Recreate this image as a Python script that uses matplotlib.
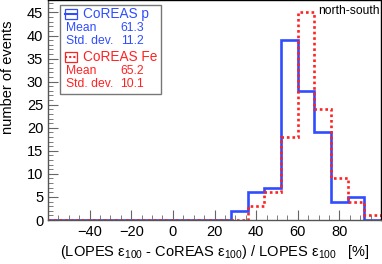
import matplotlib
matplotlib.use("Agg")
import matplotlib.pyplot as plt
from matplotlib.ticker import MultipleLocator, FixedLocator
from matplotlib.patches import Rectangle
import numpy as np

plt.rcParams['font.family'] = ['Liberation Sans', 'DejaVu Sans']
plt.rcParams['mathtext.fontset'] = 'custom'
plt.rcParams['mathtext.rm'] = 'Liberation Sans'
plt.rcParams['mathtext.it'] = 'Liberation Sans:italic'
plt.rcParams['mathtext.bf'] = 'Liberation Sans:bold'

edges = np.arange(-60, 101, 8)
# counts per 8%-wide bin from -60 to 100
proton = [0, 0, 0, 0, 0, 0, 0, 0, 0, 0, 0, 2, 6, 7, 39, 28, 19, 4, 5, 0]
iron = [0, 0, 0, 0, 0, 0, 0, 0, 0, 0, 0, 0, 3, 6, 18, 45, 24, 9, 4, 1]
xtick_vals = [-40, -20, 0, 20, 40, 60, 80]
p_label, p_mean, p_std = "CoREAS p", "61.3", "11.2"
fe_label, fe_mean, fe_std = "CoREAS Fe", "65.2", "10.1"

blue = "#2f4dff"
red = "#ff2222"

fig = plt.figure(figsize=(3.82, 2.64), dpi=100)
ax = fig.add_axes([48/382, 1-220/264, 333/382, 220/264])

ax.stairs(proton, edges, color=blue, lw=1.9, baseline=0)
ax.stairs(iron, edges, color=red, lw=1.9, ls=(0, (1, 1.1)), baseline=0)

ax.set_xlim(-60, 100)
ax.set_ylim(0, 47.7)
ax.xaxis.set_major_locator(FixedLocator(xtick_vals))
ax.xaxis.set_minor_locator(MultipleLocator(5))
ax.yaxis.set_major_locator(MultipleLocator(5))
ax.yaxis.set_minor_locator(MultipleLocator(1))
ax.tick_params(which='both', direction='in', top=False, right=False,
               color='#666666', labelsize=10.5)
ax.tick_params(which='major', length=7, width=0.8)
ax.tick_params(which='minor', length=3.5, width=0.6)
for s in ['left', 'bottom']:
    ax.spines[s].set_color('#555555')
for s in ax.spines.values():
    s.set_linewidth(1.0)

ax.set_ylabel("number of events", fontsize=10.5)
ax.yaxis.set_label_coords(-0.098, 0.65)
ax.set_xlabel("(LOPES ε$_{\\mathregular{100}}$ - CoREAS ε$_{\\mathregular{100}}$) / LOPES ε$_{\\mathregular{100}}$   [%]",
              fontsize=10.5, labelpad=3)

# legend box (pixel coords -> figure coords)
W, H = 382, 264
def fx(x):
    return x / W
def fy(y):
    return 1 - y / H

fig.patches.append(Rectangle((fx(60), fy(94)), fx(161) - fx(60), fy(5) - fy(94),
                             transform=fig.transFigure, fill=False,
                             edgecolor='#777777', lw=1.0, zorder=5))

def entry(y0, label, mean, std, color, ls):
    fig.patches.append(Rectangle((fx(65), fy(y0 + 5)), fx(12), fy(0) - fy(10),
                                 transform=fig.transFigure, fill=False,
                                 edgecolor=color, lw=0.9, zorder=5))
    fig.lines.append(plt.Line2D([fx(65), fx(77)], [fy(y0), fy(y0)],
                                transform=fig.transFigure, color=color,
                                lw=1.5, ls=ls))
    fig.text(fx(83), fy(y0), label, color=color, fontsize=9.8, va='center', ha='left')
    fig.text(fx(66), fy(y0 + 14), "Mean", color=color, fontsize=8.7, va='center', ha='left')
    fig.text(fx(144), fy(y0 + 14), mean, color=color, fontsize=8.7, va='center', ha='right')
    fig.text(fx(66), fy(y0 + 27), "Std. dev.", color=color, fontsize=8.7, va='center', ha='left')
    fig.text(fx(144), fy(y0 + 27), std, color=color, fontsize=8.7, va='center', ha='right')

entry(14, p_label, p_mean, p_std, blue, '-')
entry(57, fe_label, fe_mean, fe_std, red, (0, (1, 1)))

fig.text(fx(318), fy(11), "north-south", fontsize=8.7, va='center', ha='left')

fig.savefig("out.png", dpi=100)
